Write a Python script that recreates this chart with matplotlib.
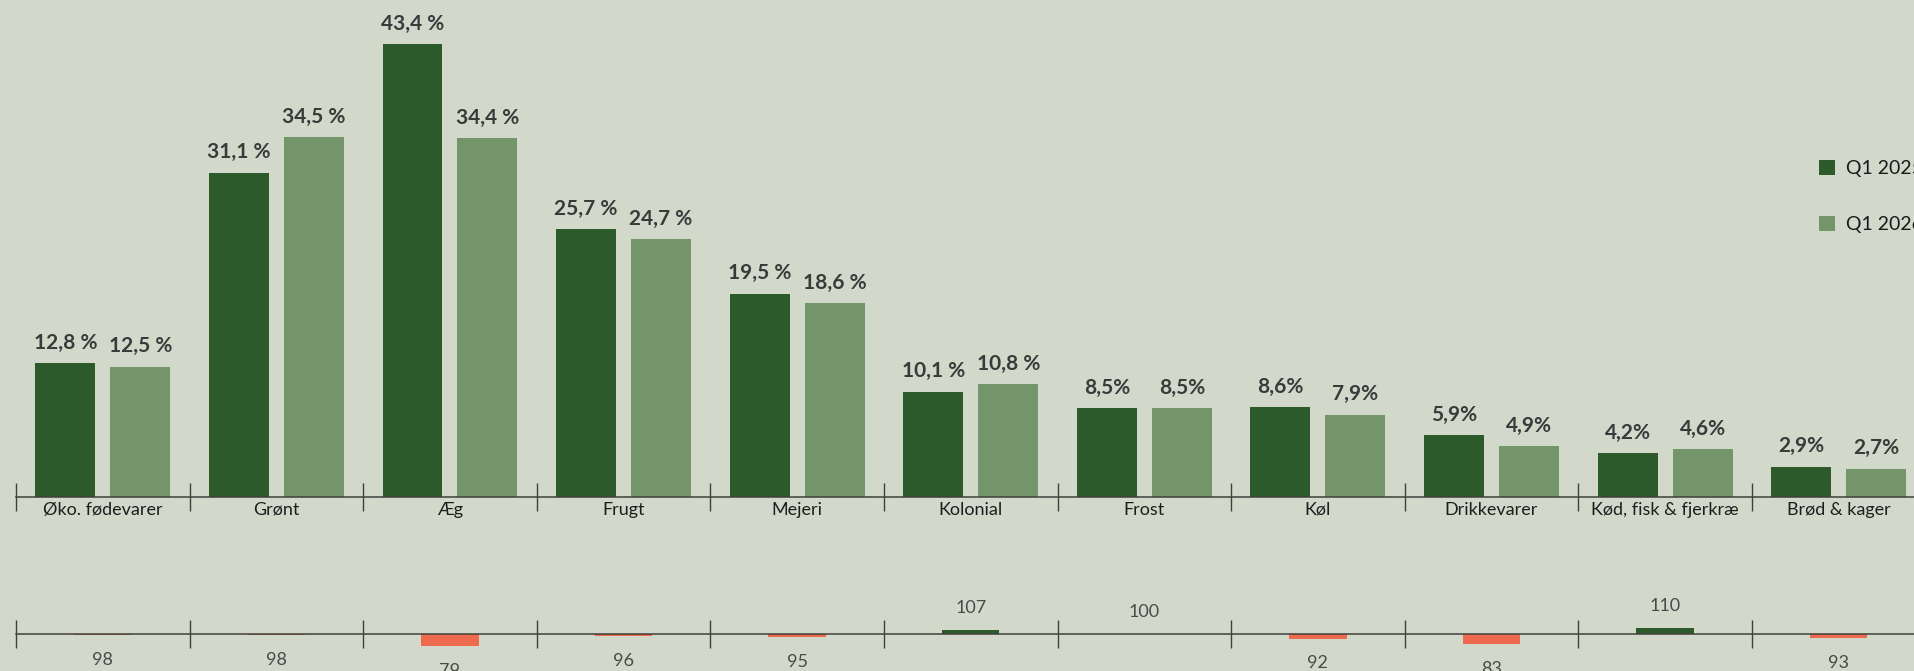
import numpy as np
import matplotlib.pyplot as plt

# data
categories = ['Øko. fødevarer', 'Grønt', 'Æg', 'Frugt', 'Mejeri', 'Kolonial',
              'Frost', 'Køl', 'Drikkevarer', 'Kød, fisk & fjerkræ', 'Brød & kager']
q1_2025 = [12.8, 31.1, 43.4, 25.7, 19.5, 10.1, 8.5, 8.6, 5.9, 4.2, 2.9]
q1_2026 = [12.5, 34.5, 34.4, 24.7, 18.6, 10.8, 8.5, 7.9, 4.9, 4.6, 2.7]
labels_2025 = ['12,8 %', '31,1 %', '43,4 %', '25,7 %', '19,5 %', '10,1 %',
               '8,5%', '8,6%', '5,9%', '4,2%', '2,9%']
labels_2026 = ['12,5 %', '34,5 %', '34,4 %', '24,7 %', '18,6 %', '10,8 %',
               '8,5%', '7,9%', '4,9%', '4,6%', '2,7%']
index_values = [98, 98, 79, 96, 95, 107, 100, 92, 83, 110, 93]
series_names = ['Q1 2025', 'Q1 2026']

BG = '#d2d9ca'
DARK = '#2c5a2b'
LIGHT = '#74946a'
RED = '#ee6a4f'
LINE = '#3f403b'

plt.rcParams['font.family'] = ['Lato', 'DejaVu Sans']

W, H = 1914, 671
fig = plt.figure(figsize=(W / 100, H / 100), dpi=100, facecolor=BG)

x = np.arange(len(categories))
xlim = (-0.592, 10.434)


def style_axis(ax):
    ax.set_facecolor('none')
    for s in ['top', 'left', 'right']:
        ax.spines[s].set_visible(False)
    ax.spines['bottom'].set_color(LINE)
    ax.spines['bottom'].set_linewidth(1.1)
    ax.spines['bottom'].set_bounds(-0.5, xlim[1])
    ax.set_yticks([])
    ax.set_xlim(*xlim)
    ax.set_xticks(x)
    ax.set_xticks(x - 0.5, minor=True)
    ax.tick_params(axis='x', which='major', length=0)
    ax.tick_params(axis='x', which='minor', length=20, width=1.0,
                   direction='inout', color=LINE)


# top chart: share per category
ax = fig.add_axes([0, 174 / H, 1, 497 / H])
style_axis(ax)
ax.set_ylim(0, 497 / 10.43)
w = 0.345
off = 0.216
b1 = ax.bar(x - off, q1_2025, w, color=DARK, label=series_names[0])
b2 = ax.bar(x + off, q1_2026, w, color=LIGHT, label=series_names[1])
for bars, labs in [(b1, labels_2025), (b2, labels_2026)]:
    for rect, lab in zip(bars, labs):
        ax.annotate(lab, (rect.get_x() + rect.get_width() / 2, rect.get_height()),
                    xytext=(0, 7.5), textcoords='offset points',
                    ha='center', va='bottom', fontsize=15, fontweight='bold',
                    color='#3a3a3a')
ax.set_xticklabels(categories, fontsize=13, color='#1e1e1e')
ax.tick_params(axis='x', which='major', pad=3.5)

fig.legend(handles=[b1, b2], loc='upper left', bbox_to_anchor=(1819 / W, 1 - 160 / H),
           frameon=False, fontsize=14, handlelength=0.82, handleheight=0.82,
           handletextpad=0.57, labelspacing=1.98, borderpad=0, borderaxespad=0,
           labelcolor='#1a1a1a')

# bottom chart: index vs last year
ax2 = fig.add_axes([0, 0, 1, 111 / H])
style_axis(ax2)
scale = 0.58
lo = 100 - 37 / scale
ax2.set_ylim(lo, lo + 111 / scale)
ax2.spines['bottom'].set_position(('data', 100))
ax2.set_xticklabels([])
diffs = np.array(index_values) - 100
colors = [DARK if d > 0 else RED for d in diffs]
ib = ax2.bar(x, diffs, 0.33, bottom=100, color=colors, zorder=1)
for rect, v in zip(ib, index_values):
    up = v >= 100
    ax2.annotate(str(v), (rect.get_x() + rect.get_width() / 2, v),
                 xytext=(0, 10 if up else -12), textcoords='offset points',
                 ha='center', va='bottom' if up else 'top',
                 fontsize=13, color='#4a4a4a')

fig.savefig('out.png', dpi=100, facecolor=BG)
